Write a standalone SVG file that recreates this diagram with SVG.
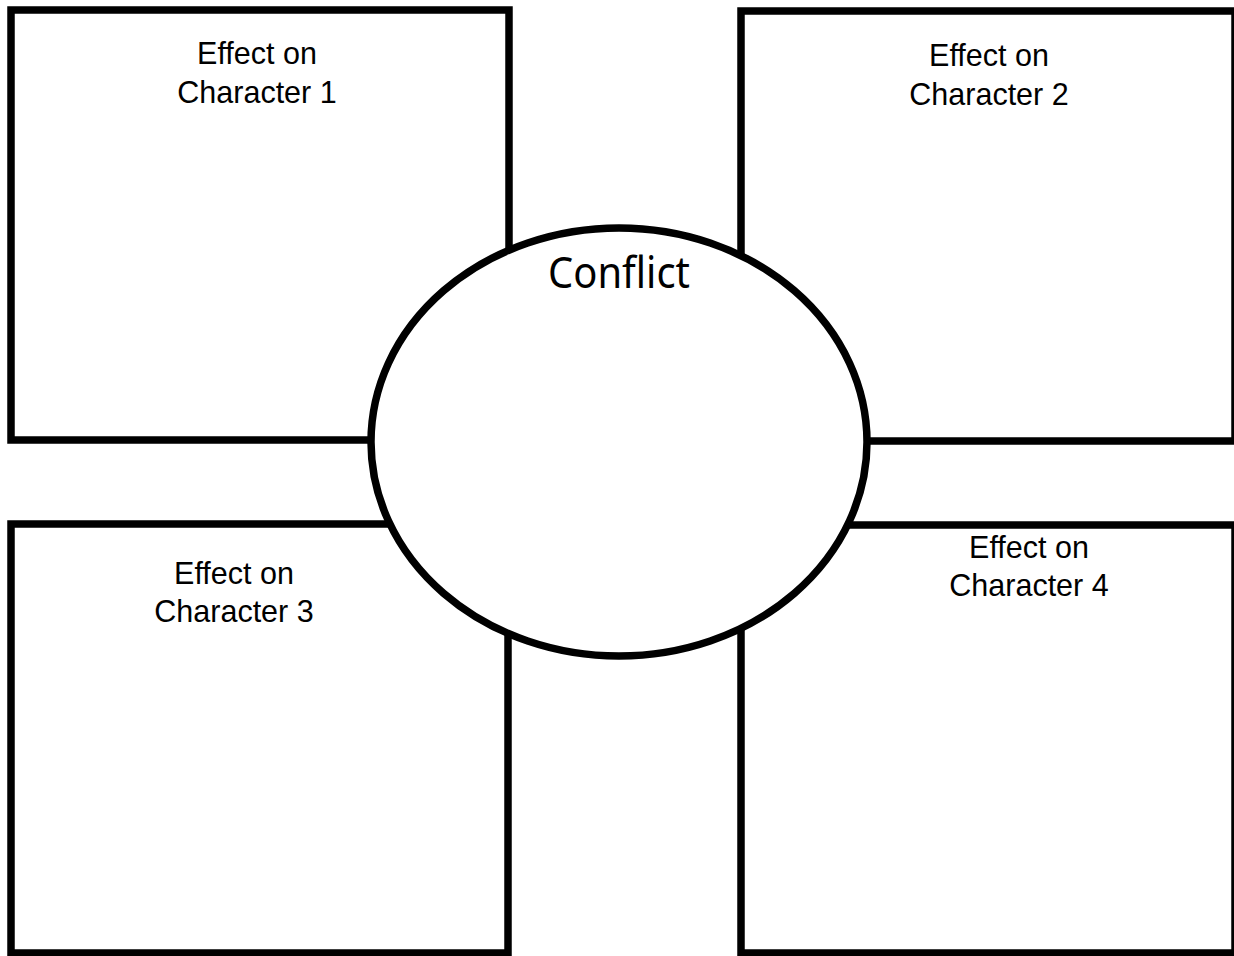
<svg xmlns="http://www.w3.org/2000/svg" width="1234" height="956" viewBox="0 0 1234 956">
<style>
.box{fill:none;stroke:#000;stroke-width:7.5}
.lbl{font-family:"Liberation Sans",Arial,sans-serif;font-size:30.5px;fill:#000;text-anchor:middle}
.title{font-family:"Noto Sans",sans-serif;font-size:44px;fill:#000;text-anchor:middle}
</style>
<rect width="1234" height="956" fill="#fff"/>
<g id="box1"><rect class="box" x="11" y="10" width="498" height="430"/>
<text class="lbl" x="257" y="64">Effect on</text><text class="lbl" x="257" y="103">Character 1</text></g>
<g id="box2"><rect class="box" x="741" y="11" width="494" height="430"/>
<text class="lbl" x="989" y="66">Effect on</text><text class="lbl" x="989" y="105">Character 2</text></g>
<g id="box3"><rect class="box" x="11" y="524" width="497" height="429"/>
<text class="lbl" x="234" y="584">Effect on</text><text class="lbl" x="234" y="622">Character 3</text></g>
<g id="box4"><rect class="box" x="741" y="525" width="494" height="428"/>
<text class="lbl" x="1029" y="558">Effect on</text><text class="lbl" x="1029" y="596">Character 4</text></g>
<g id="conflict"><ellipse cx="619" cy="442" rx="248" ry="214" fill="#fff" stroke="#000" stroke-width="7.5"/>
<text class="title" x="619" y="288" textLength="142" lengthAdjust="spacingAndGlyphs">Conflict</text></g>
<g id="connectors"></g>
</svg>
